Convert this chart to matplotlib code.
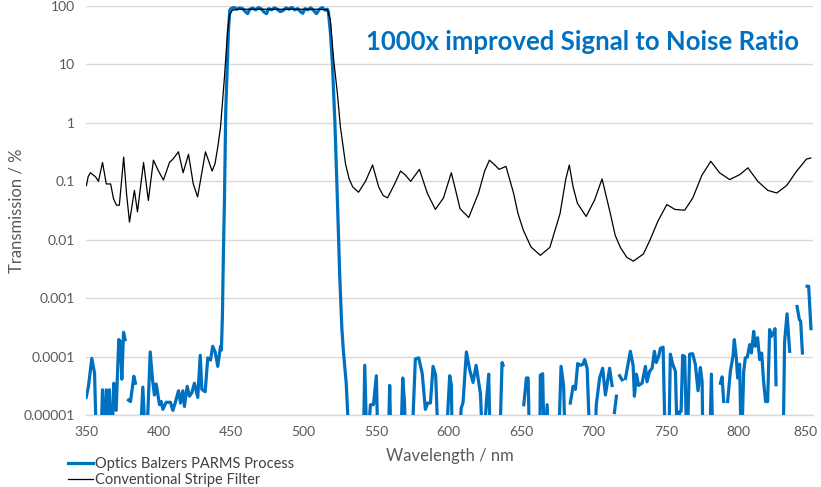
import numpy as np
import matplotlib
matplotlib.use("Agg")
import matplotlib.pyplot as plt
import matplotlib.transforms as mtransforms
from matplotlib.ticker import FixedLocator, NullLocator

nan = np.nan
LOW = 2e-6  # below the plotted range

# Optics Balzers PARMS Process: wavelength (nm) and transmission (%)
parms_nm = [
    350.1, 351.7, 354.0, 355.9, 357.4, 360.0, 361.4, 362.8, 364.0, 365.2, 366.2, 367.6,
    369.2, 370.8, 372.6, 373.8, 374.7, 375.9, 377.0, 378.0, 379.3, 380.7, 383.0, 384.1,
    385.5, 386.9, 389.2, 391.5, 394.3, 395.9, 397.2, 398.4, 400.7, 401.9, 403.0, 405.3,
    408.3, 409.9, 411.5, 413.8, 415.2, 416.8, 417.9, 419.8, 421.4, 423.0, 424.8, 427.1,
    428.8, 429.9, 432.2, 434.0, 435.9, 437.4, 439.1, 440.9, 442.8, 443.4, 444.1, 444.8,
    445.5, 446.4, 447.4, 448.3, 449.2,
    450, 452, 454, 456, 458, 460, 461.5, 463, 465, 467, 469, 471, 473, 474.5, 476, 478,
    480, 482, 484, 486, 488, 490, 492, 494, 496, 498, 499.5, 501, 503, 505, 507, 509,
    511, 513, 515, 516.5,
    517.2, 518.6, 520.0, 521.7, 523.4, 525.0, 526.5, 527.6, 529.5, 532.0,
    541.2, 542.3, 543.9, 546.2, 548.3, 550.3, 551.5, 558.3, 559.5, 560.5, 566.9, 568.5,
    569.7, 571.0, 574.5, 577.2, 579.5, 581.9, 584.1, 585.7, 587.6, 589.4, 591.2, 593.3,
    597.9, 600.9, 602.1, 602.6, 606.9, 608.8, 610.1, 612.4, 614.7, 617.0, 619.1, 622.1,
    623.9, 626.2, 627.8, 629.0, 635.2, 637.0, 637.7, 638.5, 652.0, 653.8, 655.0, 656.1,
    663.0, 663.4, 665.0, 666.2, 668.1, 669.2, 675.7, 677.7, 679.5, 680.7, 682.5, 684.1,
    686.0, 687.6, 689.2, 691.0, 692.9, 694.0, 695.7, 697.9, 700.7, 702.0, 704.3, 706.4,
    708.3, 711.2, 712.9, 713.7, 714.5, 715.9, 717.0, 718.1, 719.8, 721.0, 722.1, 725.5,
    727.4, 728.3, 729.7, 731.2, 733.6, 735.9, 737.0, 738.8, 740.5, 742.1, 743.4, 745.0,
    746.2, 748.1, 749.7, 751.9, 753.1, 754.7, 756.6, 758.1, 759.5, 760.5, 761.6, 763.0,
    764.6, 766.4, 768.5, 770.3, 772.2, 773.8, 775.0, 775.7, 780.2, 781.4, 782.6, 785.0,
    787.6, 788.8, 789.9, 791.0, 792.6, 794.5, 796.3, 797.2, 798.6, 799.5, 800.9, 802.1,
    803.7, 804.8, 806.2, 807.8, 809.0, 810.6, 811.7, 813.3, 814.7, 816.1, 817.4, 818.8,
    820.2, 821.6, 822.6, 823.9, 825.3, 826.0, 827.0, 830.8, 831.9, 833.6, 835.4, 837.0,
    840.5, 842.1, 843.0, 844.2, 845.0, 847.4, 848.5, 850.1,
]
parms_pct = [
    2.0e-5, 3.1e-5, 9.3e-5, 5.2e-5, LOW, LOW, 2.7e-5, LOW, 2.7e-5, LOW, 2.7e-5, LOW,
    3.5e-5, 1.2e-5, 1.95e-4, 1.8e-4, 4.1e-5, 2.6e-4, 1.95e-4, nan, 1.8e-5, 1.7e-5, 4.6e-5, 3.5e-5,
    nan, LOW, 3.0e-5, LOW, 1.2e-4, 4.0e-5, 2.2e-5, 3.4e-5, 1.5e-5, 1.7e-5, 1.25e-5, 1.65e-5,
    1.65e-5, 1.2e-5, 1.6e-5, 2.6e-5, 1.6e-5, 2.6e-5, 1.4e-5, 3.1e-5, 2.1e-5, 2.4e-5, 3.5e-5, 2.0e-5,
    1.05e-4, 2.75e-5, 2.5e-5, 9.5e-5, 8.7e-5, 1.5e-4, 1.2e-4, 6.8e-5, 1.5e-4, 1.3e-4, 5e-4, 6.3e-3,
    4.7e-2, 1.6, 9.0, 40.0, 85.0,
    90, 95, 88, 93, 90, 80, 74, 88, 92, 86, 94, 89, 78, 74, 90, 86,
    93, 88, 80, 84, 93, 88, 95, 86, 90, 80, 75, 90, 86, 93, 84, 74,
    88, 94, 85, 88,
    80, 35, 10, 1.0, 0.05, 2.5e-3, 3e-4, 1.2e-4, 3.5e-5, LOW,
    LOW, 7.1e-5, LOW, 1.5e-5, 1.5e-5, 4.7e-5, LOW, LOW, 3.2e-5, LOW, LOW, 4.3e-5,
    1.65e-5, LOW, LOW, 9.1e-5, 9.5e-5, 5.2e-5, 1.25e-5, 1.6e-5, 1.6e-5, 6.8e-5, 4.8e-5, LOW,
    LOW, 4.7e-5, 3.2e-5, LOW, LOW, 1.3e-5, 1.65e-5, 1.2e-4, 5.9e-5, 3.6e-5, 7.1e-5, 2.3e-5,
    LOW, 1.7e-5, 5e-5, LOW, LOW, 7.9e-5, 7.1e-5, nan, 1.5e-5, 4.3e-5, 4.3e-5, LOW,
    LOW, 4.8e-5, 5.1e-5, LOW, 1.5e-5, LOW, LOW, 6.8e-5, 3.1e-5, LOW, nan, 1.6e-5,
    3.1e-5, 2.75e-5, 7.6e-5, 7.1e-5, 7.4e-5, 8.9e-5, 6.3e-5, LOW, LOW, 1.5e-5, 4.3e-5, 6.3e-5,
    2.2e-5, 6.3e-5, 3.2e-5, nan, 1.1e-5, 2.1e-5, nan, 4.7e-5, 4.0e-5, nan, 4.2e-5, 1.23e-4,
    7.1e-5, 2.1e-5, 5e-5, 3.2e-5, 3.5e-5, 6.8e-5, 3.7e-5, 5.6e-5, 6.3e-5, 1.23e-4, 7.9e-5, 1.0e-4,
    1.38e-4, 1.45e-4, LOW, LOW, 1.1e-4, 7.4e-5, 5.6e-5, LOW, 1.15e-5, 1.15e-5, 1.05e-4, 1.0e-4,
    LOW, 1.1e-4, 1.12e-4, 7.4e-5, 2.6e-5, 6.5e-5, 3.7e-5, LOW, LOW, 5e-5, LOW, nan,
    3.5e-5, 4.5e-5, 1.7e-5, nan, 1.7e-5, 5.6e-5, 1.02e-4, 1.95e-4, 9.5e-5, 4.3e-5, 7.4e-5, LOW,
    5.6e-5, 9.5e-5, 9.8e-5, 1.6e-4, 1.15e-4, 2.7e-4, 1.5e-4, 2.1e-4, 8.9e-5, 1.15e-4, 3.8e-5, 1.7e-5,
    1.7e-5, 2.9e-4, 2.2e-4, 2.4e-4, 3.0e-4, 3.3e-5, nan, LOW, 1.8e-4, 5.4e-4, 1.23e-4, nan,
    7.2e-4, 4.3e-4, 4.0e-4, 1.15e-4, nan, 1.6e-3, 1.6e-3, 3.0e-4,
]

# Conventional Stripe Filter: wavelength (nm) and transmission (%)
stripe_nm = [
    350.3, 351.5, 353, 356.5, 358.6, 361.4, 364, 367, 369, 371, 373, 376, 378, 380,
    383.4, 385.5, 389.7, 393, 396.5, 400, 403.4, 407.6, 410, 413.8, 417, 420.7, 424, 427,
    432.4, 437, 439, 441, 442.8, 445.5, 447.6, 449, 451, 455, 460, 470, 480, 490, 500,
    510, 516.6, 518.6, 520.7, 523.4, 525.5, 529, 531.5, 534, 538, 542.8, 547.7, 551.9,
    555, 558, 562.4, 567, 570, 574, 580, 585.5, 591, 596.6, 602, 605, 608, 614, 620.7,
    625, 628.3, 632, 635, 639.7, 645, 648, 651.7, 657, 663.4, 670, 677, 681, 683.4, 686,
    689, 695, 700.7, 706, 711.7, 715, 718.6, 723, 727.6, 734.5, 739, 744.6, 750.7, 756.2,
    763, 768.6, 774.8, 781, 787, 794, 801, 806.6, 813.4, 820.3, 826.5, 833.4, 840.3, 847,
    850,
]
stripe_pct = [
    0.085, 0.12, 0.14, 0.12, 0.1, 0.21, 0.09, 0.09, 0.05, 0.039, 0.039, 0.26, 0.06, 0.02,
    0.07, 0.03, 0.21, 0.047, 0.23, 0.15, 0.105, 0.21, 0.24, 0.32, 0.14, 0.29, 0.09, 0.054,
    0.32, 0.15, 0.2, 0.4, 0.85, 6, 35, 70, 85, 88, 88, 88, 88, 88, 88,
    88, 86, 57, 13, 3.2, 0.85, 0.2, 0.11, 0.08, 0.065, 0.1, 0.19, 0.08,
    0.057, 0.052, 0.085, 0.15, 0.13, 0.1, 0.16, 0.062, 0.033, 0.052, 0.14, 0.07, 0.034, 0.024, 0.062,
    0.15, 0.23, 0.19, 0.16, 0.18, 0.062, 0.028, 0.0145, 0.0075, 0.0054, 0.0074, 0.028, 0.11, 0.19, 0.08,
    0.042, 0.025, 0.047, 0.11, 0.028, 0.012, 0.0074, 0.005, 0.0043, 0.0057, 0.0098, 0.021, 0.04, 0.033,
    0.032, 0.052, 0.126, 0.22, 0.14, 0.107, 0.13, 0.17, 0.1, 0.07, 0.063, 0.085, 0.15, 0.24,
    0.25,
]

x_ticks = [350, 400, 450, 500, 550, 600, 650, 700, 750, 800, 850]
y_ticks = [1e-5, 1e-4, 1e-3, 1e-2, 1e-1, 1, 10, 100]
y_tick_labels = ["0.00001", "0.0001", "0.001", "0.01", "0.1", "1", "10", "100"]

FONT = "Lato"
BLUE = "#0070C0"
TXT = "#595959"
GRID = "#D9D9D9"

fig = plt.figure(figsize=(8.21, 4.87), dpi=100)
ax = fig.add_axes([86 / 821, 1 - 415 / 487, (813 - 86) / 821, (415 - 6) / 487])

ax.plot(parms_nm, parms_pct, color=BLUE, lw=2.3, solid_joinstyle="round",
        label="Optics Balzers PARMS Process", zorder=3)
ax.plot(stripe_nm, stripe_pct, color="black", lw=0.9,
        label="Conventional Stripe Filter", zorder=4)

ax.set_yscale("log")
ax.set_ylim(1e-5, 100)
ax.set_xlim(350, 851.5)
ax.yaxis.set_major_locator(FixedLocator(y_ticks))
ax.yaxis.set_minor_locator(NullLocator())
ax.set_yticklabels(y_tick_labels)
ax.set_xticks(x_ticks)
ax.set_xticklabels([str(t) for t in x_ticks])

ax.grid(axis="y", color=GRID, lw=1.0)
ax.set_axisbelow(True)
for side in ("left", "right", "top"):
    ax.spines[side].set_visible(False)
ax.spines["bottom"].set_color(GRID)
ax.spines["bottom"].set_linewidth(1.0)
ax.tick_params(axis="both", length=0, labelsize=10, labelcolor=TXT, pad=8)
for lab in ax.get_xticklabels() + ax.get_yticklabels():
    lab.set_fontfamily(FONT)

# keep the last wavelength label inside the figure
last = ax.get_xticklabels()[-1]
last.set_transform(last.get_transform() + mtransforms.ScaledTranslation(-5 / 100, 0, fig.dpi_scale_trans))

ax.set_xlabel("Wavelength / nm", fontsize=12, color=TXT, family=FONT, labelpad=7)
ax.set_ylabel("Transmission / %", fontsize=12, color=TXT, family=FONT)
ax.yaxis.set_label_coords((24 - 86) / 727, 0.5)

ax.text((582 - 86) / 727, (415 - 42) / 409, "1000x improved Signal to Noise Ratio",
        transform=ax.transAxes, ha="center", va="center", color=BLUE,
        fontsize=18.5, fontweight="bold", family=FONT)

leg = fig.legend(loc="upper left", bbox_to_anchor=(62 / 821, 1 - 451 / 487), frameon=False,
                 prop={"family": FONT, "size": 10.5}, handlelength=1.7, handletextpad=0.15,
                 labelspacing=0.15, borderaxespad=0)
for t in leg.get_texts():
    t.set_color("#404040")

fig.savefig("out.png", dpi=100)
